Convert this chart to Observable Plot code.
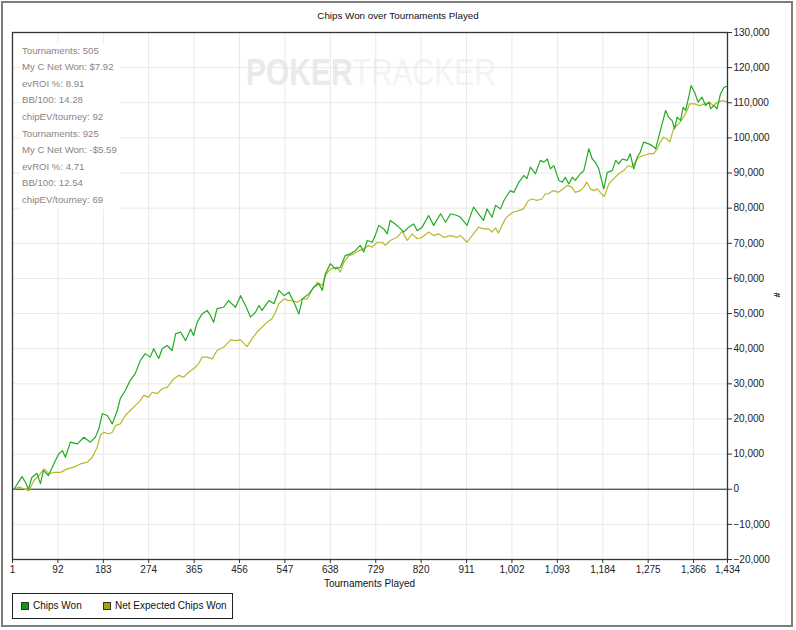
<!DOCTYPE html>
<html><head><meta charset="utf-8">
<script src="https://cdn.jsdelivr.net/npm/d3@7"></script>
<script src="https://cdn.jsdelivr.net/npm/@observablehq/plot@0.6"></script>
<style>
body{margin:0;background:#fff;font-family:"Liberation Sans",Arial,sans-serif;}
#wrap{position:relative;width:796px;height:630px;overflow:hidden;background:#fff;}
#frame{position:absolute;left:1px;top:1px;width:792px;height:626px;border:2px solid #7d7d7d;box-sizing:border-box;pointer-events:none;}
#title{position:absolute;left:0;top:10px;width:796px;text-align:center;font-size:9.8px;color:#111;}
#chart{position:absolute;left:0;top:0;}
#stats{position:absolute;left:20px;top:42.7px;font-size:9.6px;color:#8a8484;line-height:16.6px;}
#stats div{background:#fff;width:98px;padding-left:2px;}
#wm{position:absolute;left:246px;top:53px;font-size:37px;white-space:nowrap;transform-origin:0 0;transform:scaleX(0.81);line-height:40px;}
#wm .a{font-weight:bold;color:#eaeaea;}
#wm .b{color:#f3f3f3;}
#xlabel{position:absolute;left:0;width:739px;top:578px;text-align:center;font-size:10px;color:#111;}
#ylabel{position:absolute;left:774px;top:290px;font-size:9px;font-weight:bold;color:#222;transform:rotate(90deg);}
#legend{position:absolute;left:12px;top:593px;width:221px;height:26px;border:1px solid #222;box-sizing:border-box;font-size:10px;color:#111;}
.li{position:absolute;top:6px;line-height:12px;white-space:nowrap;}
.sw{display:inline-block;width:6px;height:6px;border:1px solid #333;vertical-align:-1px;margin-right:4px;}
</style></head><body><div id="wrap">
<div id="wm"><span class="a">POKER</span><span class="b">TRACKER</span></div>
<div id="chart"></div>
<div id="title"></div>
<div id="stats"></div>
<div id="xlabel"></div>
<div id="ylabel">#</div>
<div id="legend"></div>
<div id="frame"></div>
</div>
<script>
const chartTitle = "Chips Won over Tournaments Played";
const xLabel = "Tournaments Played";
const xTicks = [1,92,183,274,365,456,547,638,729,820,911,1002,1093,1184,1275,1366,1434];
const yTicks = [-20000,-10000,0,10000,20000,30000,40000,50000,60000,70000,80000,90000,100000,110000,120000,130000];
const seriesNames = ["Chips Won","Net Expected Chips Won"];
const seriesColors = ["#22ab22","#b8b82c"];
const swatchColors = ["#0e9a0e","#a8a400"];
const statLabels = ["Tournaments","My C Net Won","evROI %","BB/100","chipEV/tourney","Tournaments","My C Net Won","evROI %","BB/100","chipEV/tourney"];
const statValues = ["505","$7.92","8.91","14.28","92","925","-$5.59","4.71","12.54","69"];

// Chips Won
const chipsT = [1,4,20,27,33,40,50,57,63,73,81,87,94,101,107,117,131,144,157,167,174,181,191,201,211,217,227,237,247,257,267,277,284,294,301,311,321,328,338,348,358,364,371,381,391,398,404,411,424,434,448,458,468,478,488,495,501,515,525,535,545,555,565,575,582,595,605,615,622,628,638,648,658,668,678,688,698,705,712,722,728,735,745,752,758,768,779,785,795,805,812,822,835,845,859,869,879,892,899,912,925,935,945,952,962,969,979,986,992,999,1006,1016,1026,1032,1039,1049,1059,1066,1073,1079,1086,1096,1103,1109,1116,1123,1129,1139,1146,1156,1163,1169,1176,1186,1193,1203,1210,1216,1223,1233,1239,1246,1253,1259,1266,1276,1283,1290,1296,1303,1310,1316,1323,1328,1333,1340,1345,1350,1357,1361,1368,1375,1383,1390,1397,1400,1407,1413,1420,1427,1434];
const chipsV = [0,0,3600,2000,0,3400,4500,1600,5300,3900,6300,8200,10100,11000,9100,13400,12900,14800,13400,14800,17200,21500,21000,18600,22400,25800,28100,31000,32900,36600,38600,37600,40000,37200,40000,40900,39500,44300,44700,42300,45600,43700,47500,49900,50900,49400,47500,51400,51800,53700,51800,55100,52300,49000,50400,52300,50900,53700,52800,56600,55100,56100,53200,49900,54200,55600,57500,58500,56600,61300,64200,62700,63200,66500,67000,67900,69400,67500,70800,70300,72200,75100,74100,72700,76500,75500,74100,73200,74600,75500,73600,74600,77900,75100,78400,76000,78400,77900,77400,75100,80300,78400,76500,79800,77400,80800,79800,82200,83600,85000,84500,87400,89300,88400,91700,89800,93600,93100,94000,91200,92100,87900,87400,88800,86900,88800,87900,89800,90700,96900,94000,93100,91200,85500,90200,90700,93600,92600,94000,93600,95500,91200,94500,95900,98800,98300,97800,96900,100200,104000,107800,105900,104900,102600,105900,104900,108700,107800,112100,114900,113000,110200,111600,109200,110200,108300,109200,108300,112500,114400,114700];

// Net Expected Chips Won
const expT = [1,4,14,24,34,44,54,64,74,84,97,111,124,137,151,161,171,177,184,194,201,207,217,227,237,247,257,264,274,281,291,301,311,324,334,344,354,364,374,381,391,401,411,424,438,448,458,471,481,491,501,511,521,528,535,545,555,561,572,582,592,602,612,622,628,638,652,658,665,675,685,695,705,715,722,732,742,748,758,772,782,792,802,812,822,835,845,855,865,879,892,899,912,922,935,945,955,962,969,975,982,989,995,1005,1015,1025,1035,1042,1052,1062,1069,1075,1085,1095,1105,1112,1122,1129,1139,1146,1152,1159,1166,1173,1179,1187,1196,1206,1216,1226,1235,1242,1249,1256,1266,1276,1286,1293,1299,1306,1313,1318,1326,1336,1346,1353,1358,1368,1378,1388,1398,1405,1415,1425,1434];
const expV = [0,0,600,100,-400,2500,3900,5800,4400,4800,4800,5800,6300,7200,7700,9100,12000,15300,16200,15800,16200,18100,18600,21000,22400,23800,25200,26700,26200,27600,27200,28600,29000,31400,32400,31900,33300,34300,35700,37600,37600,37100,39500,40400,42500,42300,42500,40600,42800,44700,46100,47500,48500,50400,52800,54200,53700,53700,53200,54200,54200,57000,58900,58000,60800,62700,63200,61800,64600,66500,67000,67900,68400,69400,68900,70300,70300,69400,70800,71700,73400,70800,72700,71300,71700,73200,72200,72700,71700,72200,71700,72200,70300,72200,74600,74100,74100,73200,74400,72900,75100,77000,77900,78900,79300,79800,82200,82600,82200,82600,84100,84100,85000,84500,85500,86500,86000,84500,85000,86000,87400,85500,85000,85500,84500,83300,86900,88400,89800,90700,92100,91700,93100,94500,95000,95500,95500,96900,98800,100200,99700,98800,102600,104000,105900,107800,109700,109700,109200,109700,110200,109200,110200,110600,110200];

const chips = chipsT.map((t,i)=>({t, v: chipsV[i]}));
const expected = expT.map((t,i)=>({t, v: expV[i]}));

document.getElementById("title").textContent = chartTitle;
document.getElementById("xlabel").textContent = xLabel;
const stats = document.getElementById("stats");
statLabels.forEach((l,i)=>{const d=document.createElement("div");d.textContent=l+": "+statValues[i];stats.appendChild(d);});
const lg = document.getElementById("legend");
const lgLeft = [8, 90];
seriesNames.forEach((n,i)=>{
  const d=document.createElement("div");d.className="li";d.style.left=lgLeft[i]+"px";
  const s=document.createElement("span");s.className="sw";s.style.background=swatchColors[i];
  d.appendChild(s);d.appendChild(document.createTextNode(n));lg.appendChild(d);
});

const fmt = d3.format(",");
const plot = Plot.plot({
  width: 796,
  height: 592,
  marginLeft: 12,
  marginRight: 69,
  marginTop: 32,
  marginBottom: 33,
  style: {fontFamily: "Liberation Sans, Arial, sans-serif", fontSize: "10px", background: "transparent", color: "#111"},
  x: {domain: [1, 1434], ticks: xTicks},
  y: {domain: [-20000, 130000], ticks: yTicks},
  marks: [
    Plot.gridX(xTicks, {stroke: "#e8e8e8", strokeOpacity: 1}),
    Plot.gridY(yTicks, {stroke: "#e8e8e8", strokeOpacity: 1}),
    Plot.ruleY([0], {stroke: "#222", strokeWidth: 1}),
    Plot.line(expected, {x: "t", y: "v", stroke: seriesColors[1], strokeWidth: 1.2}),
    Plot.line(chips, {x: "t", y: "v", stroke: seriesColors[0], strokeWidth: 1.2}),
    Plot.frame({stroke: "#333", strokeWidth: 1.3}),
    Plot.axisX(xTicks, {anchor: "bottom", tickSize: 4, tickPadding: 2, tickFormat: fmt, label: null, fill: "#222", stroke: "#333"}),
    Plot.axisY(yTicks, {anchor: "right", tickSize: 4, tickPadding: 2, tickFormat: fmt, label: null, fill: "#222", stroke: "#333"})
  ]
});
document.getElementById("chart").appendChild(plot);
</script>
</body></html>
